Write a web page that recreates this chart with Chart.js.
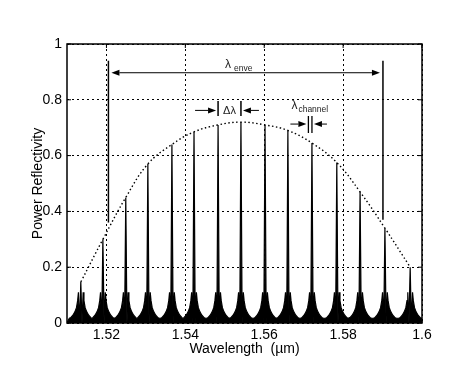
<!DOCTYPE html>
<html>
<head>
<meta charset="utf-8">
<script src="https://cdn.jsdelivr.net/npm/chart.js@4/dist/chart.umd.min.js"></script>
<style>
  html, body { margin: 0; padding: 0; background: #fff; }
  canvas { display: block; }
</style>
</head>
<body>
<canvas id="chart" width="474" height="369"></canvas>
<script>
// reflection peaks of the comb (wavelength in um, power reflectivity)
const peakWl = [1.5135, 1.5191, 1.5249, 1.5305, 1.5366, 1.5422, 1.5483, 1.5541, 1.5602, 1.5660, 1.5721, 1.5784, 1.5843, 1.5906, 1.5970];
const peakR = [0.147, 0.30, 0.45, 0.57, 0.64, 0.685, 0.71, 0.72, 0.71, 0.69, 0.645, 0.575, 0.47, 0.34, 0.20];

// sidelobe floor on each side of a peak
const lobeOffset = [0.0003, 0.0006, 0.0008, 0.0011, 0.0015, 0.002, 0.0025, 0.0029];
const lobeR = [0, 0.11, 0.08, 0.055, 0.04, 0.028, 0.02, 0.017];

// axes
const xTicks = [1.52, 1.54, 1.56, 1.58, 1.6];
const xTickLabels = ['1.52', '1.54', '1.56', '1.58', '1.6'];
const yTicks = [0, 0.2, 0.4, 0.6, 0.8, 1];
const yTickLabels = ['0', '0.2', '0.4', '0.6', '0.8', '1'];

// annotation anchors (data space)
const enveLeft = 1.5205;
const enveRight = 1.5901;
const enveTop = 0.94;
const enveLeftBottom = 0.36;
const enveRightBottom = 0.37;
const enveArrowY = 0.897;
const deltaBars = [1.5483, 1.5541];
const deltaBarY = [0.742, 0.796];
const deltaArrowY = 0.762;
const channelBars = [1.5712, 1.5721];
const channelBarY = [0.681, 0.742];
const channelArrowY = 0.713;

// spectrum: spike + sidelobes around each peak
const spectrum = [{ x: 1.51, y: 0.002 }];
peakWl.forEach((c, i) => {
  for (let k = lobeOffset.length - 1; k >= 0; k--) spectrum.push({ x: c - lobeOffset[k], y: lobeR[k] });
  spectrum.push({ x: c, y: peakR[i] });
  for (let k = 0; k < lobeOffset.length; k++) spectrum.push({ x: c + lobeOffset[k], y: lobeR[k] });
});
spectrum.push({ x: 1.6, y: 0.002 });
spectrum.sort((a, b) => a.x - b.x);

const envelope = peakWl.map((w, i) => ({ x: w, y: peakR[i] }));

const FONT = '"Liberation Sans", Arial, Helvetica, sans-serif';

function arrow(ctx, x0, y0, x1, y1) {
  const ang = Math.atan2(y1 - y0, x1 - x0);
  const hl = 8, hw = 3;
  ctx.beginPath();
  ctx.moveTo(x0, y0);
  ctx.lineTo(x1 - Math.cos(ang) * hl, y1 - Math.sin(ang) * hl);
  ctx.stroke();
  ctx.beginPath();
  ctx.moveTo(x1, y1);
  ctx.lineTo(x1 - Math.cos(ang) * hl - Math.sin(ang) * hw, y1 - Math.sin(ang) * hl + Math.cos(ang) * hw);
  ctx.lineTo(x1 - Math.cos(ang) * hl + Math.sin(ang) * hw, y1 - Math.sin(ang) * hl - Math.cos(ang) * hw);
  ctx.closePath();
  ctx.fill();
}

function vline(ctx, px, py0, py1, w) {
  ctx.lineWidth = w;
  ctx.beginPath();
  ctx.moveTo(px, py0);
  ctx.lineTo(px, py1);
  ctx.stroke();
}

// box, inner ticks and the drawn-on annotations
const annotations = {
  id: 'annotations',
  afterDatasetsDraw(chart) {
    const { ctx, chartArea: a, scales: { x, y } } = chart;
    ctx.save();
    ctx.strokeStyle = '#000';
    ctx.fillStyle = '#000';

    // frame
    ctx.lineWidth = 1.5;
    ctx.strokeRect(a.left, a.top, a.right - a.left, a.bottom - a.top);
    ctx.lineWidth = 1;
    xTicks.forEach(v => {
      const px = x.getPixelForValue(v);
      ctx.beginPath();
      ctx.moveTo(px, a.bottom); ctx.lineTo(px, a.bottom - 4);
      ctx.moveTo(px, a.top); ctx.lineTo(px, a.top + 4);
      ctx.stroke();
    });
    yTicks.forEach(v => {
      const py = y.getPixelForValue(v);
      ctx.beginPath();
      ctx.moveTo(a.left, py); ctx.lineTo(a.left + 4, py);
      ctx.moveTo(a.right, py); ctx.lineTo(a.right - 4, py);
      ctx.stroke();
    });

    // lambda_enve span
    const xl = x.getPixelForValue(enveLeft);
    const xr = x.getPixelForValue(enveRight);
    vline(ctx, xl, y.getPixelForValue(enveTop), y.getPixelForValue(enveLeftBottom), 1.5);
    vline(ctx, xr, y.getPixelForValue(enveTop), y.getPixelForValue(enveRightBottom), 1.5);
    const ay = y.getPixelForValue(enveArrowY);
    ctx.lineWidth = 1;
    arrow(ctx, (xl + xr) / 2, ay, xl + 3, ay);
    arrow(ctx, (xl + xr) / 2, ay, xr - 3, ay);

    // delta lambda
    const d0 = x.getPixelForValue(deltaBars[0]);
    const d1 = x.getPixelForValue(deltaBars[1]);
    deltaBars.forEach(v => vline(ctx, x.getPixelForValue(v), y.getPixelForValue(deltaBarY[0]), y.getPixelForValue(deltaBarY[1]), 1.5));
    const dy = y.getPixelForValue(deltaArrowY);
    ctx.lineWidth = 1;
    arrow(ctx, d0 - 23, dy, d0 - 2, dy);
    arrow(ctx, d1 + 18, dy, d1 + 2, dy);

    // lambda_channel
    const c0 = x.getPixelForValue(channelBars[0]);
    const c1 = x.getPixelForValue(channelBars[1]);
    channelBars.forEach(v => vline(ctx, x.getPixelForValue(v), y.getPixelForValue(channelBarY[0]), y.getPixelForValue(channelBarY[1]), 1.3));
    const cy = y.getPixelForValue(channelArrowY);
    ctx.lineWidth = 1;
    arrow(ctx, c0 - 18, cy, c0 - 2, cy);
    arrow(ctx, c1 + 15, cy, c1 + 2, cy);

    // labels
    ctx.fillStyle = '#222';
    ctx.textBaseline = 'alphabetic';
    ctx.textAlign = 'left';
    ctx.font = '12px ' + FONT;
    ctx.fillText('\u03bb', 225, ay - 5);
    ctx.font = '8.5px ' + FONT;
    ctx.fillText('enve', 234, ay - 2);

    ctx.font = '11px ' + FONT;
    ctx.textAlign = 'center';
    ctx.fillText('\u0394\u03bb', (d0 + d1) / 2, dy + 4);

    ctx.textAlign = 'left';
    ctx.font = '12px ' + FONT;
    ctx.fillText('\u03bb', c0 - 17, y.getPixelForValue(channelBarY[1]) - 7);
    ctx.font = '8.5px ' + FONT;
    ctx.fillText('channel', c0 - 10, y.getPixelForValue(channelBarY[1]) - 4);
    ctx.restore();
  }
};

new Chart(document.getElementById('chart'), {
  type: 'line',
  data: {
    datasets: [
      {
        label: 'Spectrum',
        data: spectrum,
        borderColor: '#000',
        backgroundColor: '#000',
        borderWidth: 1.2,
        pointRadius: 0,
        fill: 'origin',
        tension: 0
      },
      {
        label: 'Envelope',
        data: envelope,
        borderColor: '#000',
        borderWidth: 1.4,
        borderDash: [1.5, 2.5],
        pointRadius: 0,
        fill: false,
        tension: 0.4
      }
    ]
  },
  options: {
    responsive: false,
    animation: false,
    layout: { padding: { top: 44, right: 52, left: 0, bottom: 0 } },
    plugins: { legend: { display: false }, tooltip: { enabled: false } },
    scales: {
      x: {
        type: 'linear',
        min: 1.51,
        max: 1.6,
        afterBuildTicks: axis => { axis.ticks = xTicks.map(v => ({ value: v })); },
        afterFit: scale => { scale.height = 46; },
        ticks: {
          color: '#000',
          padding: 4,
          font: { family: FONT, size: 14 },
          callback: v => xTickLabels[xTicks.indexOf(v)]
        },
        grid: { color: '#000', lineWidth: 1, drawTicks: false },
        border: { display: false, dash: [2, 3] },
        title: {
          display: true,
          text: 'Wavelength  (\u00b5m)',
          color: '#000',
          font: { family: FONT, size: 14 },
          padding: { top: 0, bottom: 11 }
        }
      },
      y: {
        min: 0,
        max: 1,
        afterBuildTicks: axis => { axis.ticks = yTicks.map(v => ({ value: v })); },
        afterFit: scale => { scale.width = 67; },
        ticks: {
          color: '#000',
          padding: 5,
          font: { family: FONT, size: 14 },
          callback: v => yTickLabels[yTicks.indexOf(v)]
        },
        grid: { color: '#000', lineWidth: 1, drawTicks: false },
        border: { display: false, dash: [2, 3] },
        title: {
          display: true,
          text: 'Power Reflectivity',
          color: '#000',
          font: { family: FONT, size: 14 },
          padding: { top: 30, bottom: 0 }
        }
      }
    }
  },
  plugins: [annotations]
});
</script>
</body>
</html>
